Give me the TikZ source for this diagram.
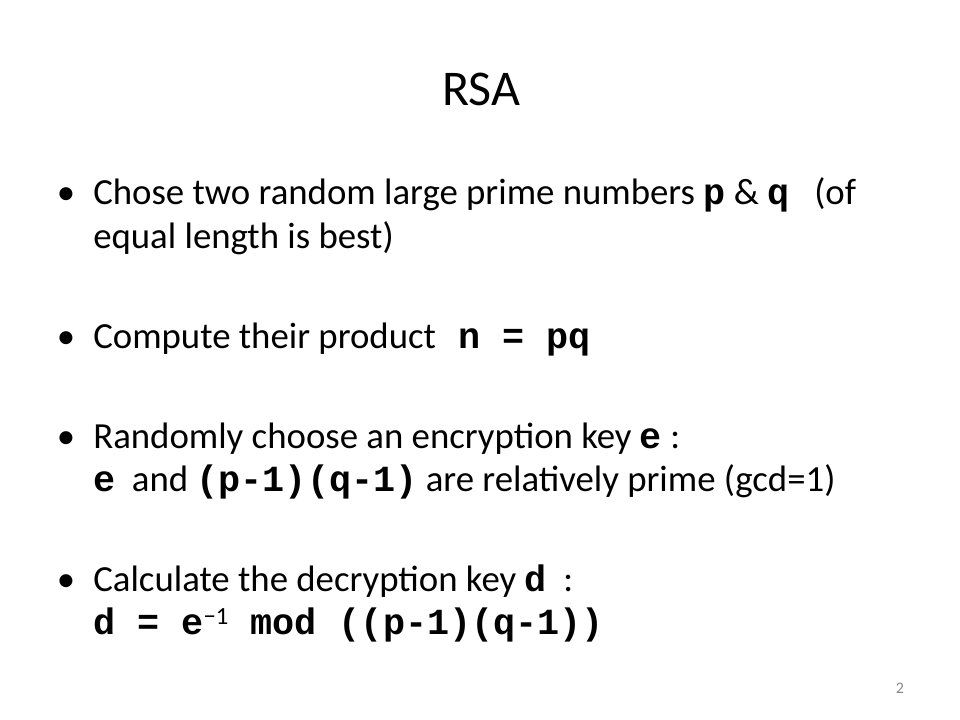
\documentclass[tikz,border=0pt]{standalone}
\usepackage{fontspec}
\setmainfont{Carlito}
\newfontfamily\codefont{Liberation Mono}
\usepackage{tikz}
\usetikzlibrary{positioning}
\newcommand{\cd}[1]{{\codefont\bfseries #1}}
\newcommand{\supminus}{\raisebox{7pt}{\fontsize{18.5}{18.5}\selectfont −1}}
\definecolor{pagegray}{RGB}{137,137,137}
\tikzset{
  txt/.style={anchor=base west,inner sep=0pt,font=\fontsize{27.6}{33}\selectfont},
  dot/.style={anchor=base,inner sep=0pt,font=\fontsize{27.6}{33}\selectfont}
}

\begin{document}
\begin{tikzpicture}[x=0.75pt,y=-0.75pt]
    \useasboundingbox[fill=white] (0,0) rectangle (960,720);
    %title
    \node[anchor=base,inner sep=0pt,font=\fontsize{37.5}{45}\selectfont] (title) at (481.5,106) {RSA};
    %bullets
    \node[dot] (d1) at (66,205) {•};
    \node[dot] (d2) at (66,348) {•};
    \node[dot] (d3) at (66,448) {•};
    \node[dot] (d4) at (66,591) {•};
    %lines
    \node[txt] (l1a) at (93,205) {Chose two random large prime numbers \cd{p} \& \cd{q} \ \ (of};
    \node[txt] (l1b) at (93,249) {equal length is best)};
    \node[txt] (l2a) at (93,348) {Compute their product\cd{ n = pq}};
    \node[txt] (l3a) at (93,448) {Randomly choose an encryption key \cd{e} :};
    \node[txt] (l3b) at (93,491) {\cd{e} \ and \cd{(p-1)(q-1)} are relatively prime (gcd=1)};
    \node[txt] (l4a) at (93,591) {Calculate the decryption key \cd{d} \ :};
    \node[txt] (l4b) at (93,634) {\cd{d = e}\supminus\cd{ mod ((p-1)(q-1))}};
    %page number
    \node[anchor=base,inner sep=0pt,text=pagegray,font=\fontsize{12}{14}\selectfont] (page) at (900,693) {2};
\end{tikzpicture}
\end{document}
